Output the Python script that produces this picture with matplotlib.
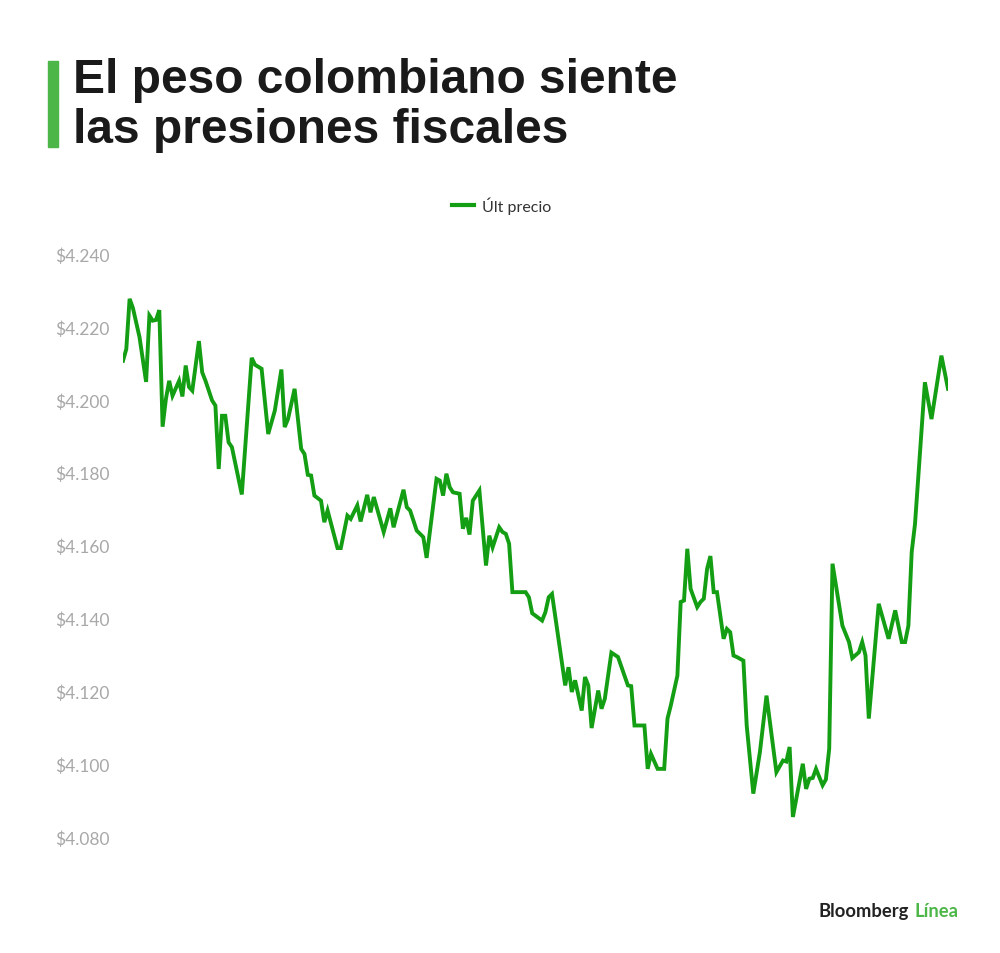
"""Peso colombiano: último precio, estilo Bloomberg Línea."""

import matplotlib
matplotlib.use("Agg")
import matplotlib.pyplot as plt

# trading-day index and last price in COP per USD
days = [
    0, 1, 2, 3, 5, 7, 8, 9, 10, 11, 12, 13, 14, 15, 17, 18, 19, 20, 21, 23,
    24, 25, 27, 28, 29, 30, 31, 32, 33, 36, 39, 40, 42, 44, 45, 46, 48, 49, 50, 52,
    54, 55, 56, 57, 58, 60, 61, 62, 65, 66, 68, 69, 71, 72, 74, 75, 76, 79, 81, 82,
    85, 86, 87, 89, 91, 92, 95, 96, 97, 98, 99, 100, 102, 103, 104, 105, 106, 108, 110, 111,
    112, 114, 115, 116, 117, 118, 122, 123, 124, 127, 128, 129, 130, 134, 135, 136, 137, 139, 140, 141,
    142, 144, 145, 146, 148, 150, 153, 154, 155, 158, 159, 160, 162, 164, 165, 166, 168, 169, 170, 171,
    172, 174, 175, 176, 177, 178, 179, 180, 182, 183, 184, 185, 186, 188, 189, 191, 193, 195, 198, 200,
    201, 202, 203, 206, 207, 208, 209, 210, 212, 213, 214, 215, 218, 220, 221, 223, 224, 225, 226, 229,
    232, 234, 236, 237, 238, 239, 240, 243, 245, 248, 250,
]
prices = [
    4210.7, 4213.9, 4227.7, 4225.2, 4217.2, 4204.9, 4223.1, 4221.7, 4221.9, 4224.6,
    4192.6, 4200.2, 4205.2, 4201.1, 4205.2, 4200.9, 4209.4, 4203.5, 4202.5, 4216.1,
    4207.5, 4205.2, 4199.8, 4198.4, 4181.0, 4195.6, 4195.6, 4188.3, 4187.0, 4174.0,
    4211.5, 4209.6, 4208.5, 4190.6, 4193.8, 4197.0, 4208.3, 4192.5, 4194.7, 4203.0,
    4186.5, 4185.1, 4179.4, 4179.2, 4173.7, 4172.3, 4166.4, 4169.6, 4159.3, 4159.3,
    4168.2, 4167.3, 4171.0, 4166.6, 4173.9, 4169.1, 4173.3, 4163.7, 4170.2, 4165.0,
    4175.3, 4170.5, 4169.6, 4164.1, 4162.3, 4156.6, 4178.3, 4177.8, 4173.7, 4179.7,
    4176.0, 4174.6, 4174.2, 4164.6, 4167.6, 4163.0, 4172.3, 4175.1, 4154.5, 4162.7,
    4159.5, 4165.0, 4163.7, 4163.2, 4160.5, 4147.2, 4147.2, 4145.8, 4141.4, 4139.4,
    4141.7, 4145.8, 4146.7, 4121.6, 4126.6, 4119.8, 4123.0, 4114.7, 4123.9, 4121.6,
    4109.9, 4120.2, 4115.2, 4117.9, 4130.6, 4129.4, 4121.6, 4121.4, 4110.6, 4110.6,
    4098.7, 4102.8, 4098.7, 4098.7, 4112.5, 4116.1, 4124.3, 4144.5, 4144.9, 4159.1,
    4148.1, 4143.1, 4144.5, 4145.4, 4153.6, 4157.1, 4147.2, 4147.2, 4134.4, 4137.1,
    4136.2, 4129.8, 4129.4, 4128.4, 4110.6, 4091.9, 4103.3, 4118.8, 4097.8, 4101.0,
    4100.7, 4104.7, 4085.5, 4100.1, 4093.2, 4096.0, 4096.2, 4098.7, 4094.2, 4095.8,
    4104.2, 4155.0, 4138.0, 4133.5, 4129.1, 4130.7, 4133.5, 4129.8, 4112.5, 4144.0,
    4134.4, 4142.2, 4133.5, 4133.5, 4138.0, 4158.2, 4165.9, 4204.8, 4194.7, 4212.1,
    4203.0,
]
y_ticks = [4080, 4100, 4120, 4140, 4160, 4180, 4200, 4220, 4240]

title = "El peso colombiano siente\nlas presiones fiscales"
series_name = "Últ precio"
LINE = "#149e14"
BRAND_GREEN = "#4cb648"

fig = plt.figure(figsize=(10, 9.54), dpi=100)
ax = fig.add_axes([0.123, 0.1216, 0.825, 0.6111])
ax.plot(days, prices, color=LINE, linewidth=2.8, solid_joinstyle="miter")
ax.set_xlim(min(days), max(days))
ax.set_ylim(y_ticks[0], y_ticks[-1])
ax.set_yticks(y_ticks)
ax.set_yticklabels([f"${t // 1000}.{t % 1000:03d}" for t in y_ticks])
ax.set_xticks([])
ax.tick_params(axis="y", length=0, pad=49, labelsize=12.5, labelcolor="#a8a8a8")
for label in ax.get_yticklabels():
    label.set_horizontalalignment("left")
    label.set_fontfamily("Lato")
for side in ax.spines.values():
    side.set_visible(False)
ax.patch.set_alpha(0)

# title with green accent bar
fig.patches.append(plt.Rectangle((0.048, 1 - 148 / 954), 0.010, 86 / 954,
                                 transform=fig.transFigure, color=BRAND_GREEN))
fig.text(0.073, 1 - 58 / 954, title, ha="left", va="top", fontsize=34.5,
         fontweight="bold", family="Liberation Sans", color="#1a1a1a", linespacing=1.14)

# legend
fig.add_artist(plt.Line2D([0.452, 0.474], [1 - 206 / 954] * 2, transform=fig.transFigure,
                          color=LINE, linewidth=3))
fig.text(0.482, 1 - 206 / 954, series_name, ha="left", va="center", fontsize=11.5,
         family="Lato", color="#333333")

# footer brand
fig.text(0.909, 1 - 912 / 954, "Bloomberg", ha="right", va="center", fontsize=13.2,
         fontweight="bold", family="Lato", color="#222222")
fig.text(0.958, 1 - 912 / 954, "Línea", ha="right", va="center", fontsize=13.2,
         fontweight="bold", family="Lato", color=BRAND_GREEN)

fig.savefig("out.png", dpi=100, facecolor="white")
